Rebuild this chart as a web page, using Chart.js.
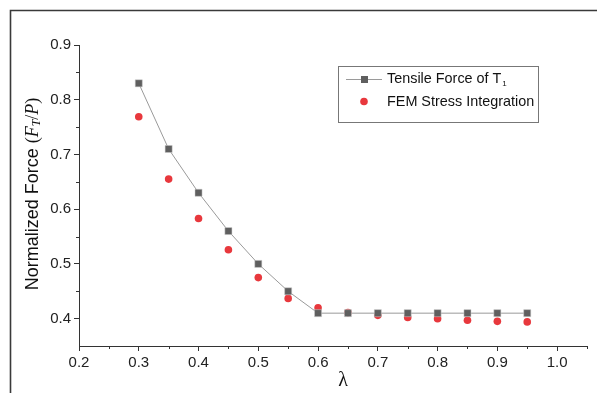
<!DOCTYPE html>
<html>
<head>
<meta charset="utf-8">
<script src="https://cdn.jsdelivr.net/npm/chart.js@4/dist/chart.umd.min.js"></script>
<style>
  html, body { margin: 0; padding: 0; background: #fff; }
  #wrap { width: 597px; height: 393px; }
</style>
</head>
<body>
<div id="wrap"><canvas id="forceChart" width="597" height="393"></canvas></div>
<script>
// lambda values
const lambdas = [0.3, 0.35, 0.4, 0.45, 0.5, 0.55, 0.6, 0.65, 0.7, 0.75, 0.8, 0.85, 0.9, 0.95];
// tensile force of T1 (squares + line)
const tensileForce = [0.83, 0.71, 0.63, 0.56, 0.50, 0.45, 0.41, 0.41, 0.41, 0.41, 0.41, 0.41, 0.41, 0.41];
// FEM stress integration (red dots)
const femStress = [0.769, 0.655, 0.583, 0.526, 0.475, 0.437, 0.420, 0.411, 0.406, 0.402, 0.400, 0.397, 0.395, 0.394];

const xTicks = [0.2, 0.3, 0.4, 0.5, 0.6, 0.7, 0.8, 0.9, 1.0];
const xMinorTicks = [0.25, 0.35, 0.45, 0.55, 0.65, 0.75, 0.85, 0.95, 1.05];
const yTicks = [0.4, 0.5, 0.6, 0.7, 0.8, 0.9];
const yMinorTicks = [0.45, 0.55, 0.65, 0.75, 0.85];

const axisColor = '#333';
const lineGrey = '#9a9a9a';
const squareGrey = '#5f5f5f';
const dotRed = '#e8383d';

// frame, minor ticks, axis titles and legend
const extras = {
    id: 'extras',
    afterDraw(chart) {
        const ctx = chart.ctx;
        const xs = chart.scales.x, ys = chart.scales.y;
        const area = chart.chartArea;
        ctx.save();

        // outer frame (top and left)
        ctx.strokeStyle = '#3a3a3a';
        ctx.lineWidth = 1.6;
        ctx.beginPath();
        ctx.moveTo(10.5, 393);
        ctx.lineTo(10.5, 10.5);
        ctx.lineTo(597, 10.5);
        ctx.stroke();

        // minor ticks
        ctx.strokeStyle = axisColor;
        ctx.lineWidth = 1;
        ctx.beginPath();
        xMinorTicks.forEach(v => {
            const px = Math.round(xs.getPixelForValue(v)) + 0.5;
            ctx.moveTo(px, area.bottom);
            ctx.lineTo(px, area.bottom + 3);
        });
        yMinorTicks.forEach(v => {
            const py = Math.round(ys.getPixelForValue(v)) + 0.5;
            ctx.moveTo(area.left, py);
            ctx.lineTo(area.left - 3, py);
        });
        ctx.stroke();

        // x title
        ctx.fillStyle = '#111';
        ctx.font = '20px "Liberation Serif", "DejaVu Serif", serif';
        ctx.textAlign = 'center';
        ctx.textBaseline = 'middle';
        ctx.fillText('λ', 343, 381);

        // y title, rotated, with math part
        const parts = [
            { t: 'Normalized Force ', f: '18px "Liberation Sans", Arial, sans-serif', dy: 0 },
            { t: '(', f: '18px "Liberation Serif", serif', dy: 0 },
            { t: 'F', f: 'italic 18px "Liberation Serif", serif', dy: 0 },
            { t: 'T', f: 'italic 12px "Liberation Serif", serif', dy: 4 },
            { t: '/', f: '18px "Liberation Serif", serif', dy: 0 },
            { t: 'P', f: 'italic 18px "Liberation Serif", serif', dy: 0 },
            { t: ')', f: '18px "Liberation Serif", serif', dy: 0 }
        ];
        let total = 0;
        parts.forEach(p => { ctx.font = p.f; p.w = ctx.measureText(p.t).width; total += p.w; });
        ctx.translate(33, 194);
        ctx.rotate(-Math.PI / 2);
        ctx.textAlign = 'left';
        ctx.textBaseline = 'middle';
        let cx = -total / 2;
        parts.forEach(p => {
            ctx.font = p.f;
            ctx.fillText(p.t, cx, p.dy);
            cx += p.w;
        });
        ctx.setTransform(1, 0, 0, 1, 0, 0);

        // legend box
        ctx.strokeStyle = '#777';
        ctx.lineWidth = 1;
        ctx.strokeRect(338.5, 66.5, 200, 56);

        ctx.strokeStyle = lineGrey;
        ctx.beginPath();
        ctx.moveTo(346, 79.5);
        ctx.lineTo(382, 79.5);
        ctx.stroke();
        ctx.fillStyle = squareGrey;
        ctx.fillRect(361, 76, 7, 7);

        ctx.fillStyle = dotRed;
        ctx.beginPath();
        ctx.arc(364, 101.5, 3.8, 0, Math.PI * 2);
        ctx.fill();

        ctx.fillStyle = '#111';
        ctx.font = '14.4px "Liberation Sans", Arial, sans-serif';
        ctx.textBaseline = 'middle';
        ctx.fillText('Tensile Force of T', 387, 79);
        const tw = ctx.measureText('Tensile Force of T').width;
        ctx.font = '8px "Liberation Sans", Arial, sans-serif';
        ctx.fillText('1', 387 + tw + 1, 84);
        ctx.font = '14.4px "Liberation Sans", Arial, sans-serif';
        ctx.fillText('FEM Stress Integration', 387, 102);

        ctx.restore();
    }
};

const ctx = document.getElementById('forceChart').getContext('2d');

new Chart(ctx, {
    type: 'line',
    data: {
        datasets: [
            {
                label: 'Tensile Force of T1',
                data: lambdas.map((x, i) => ({ x: x, y: tensileForce[i] })),
                borderColor: lineGrey,
                borderWidth: 1,
                pointStyle: 'rect',
                pointRadius: 5,
                pointBackgroundColor: squareGrey,
                pointBorderColor: '#cfcfcf',
                pointBorderWidth: 0.5,
                tension: 0
            },
            {
                label: 'FEM Stress Integration',
                data: lambdas.map((x, i) => ({ x: x, y: femStress[i] })),
                showLine: false,
                pointStyle: 'circle',
                pointRadius: 3.8,
                pointBackgroundColor: dotRed,
                pointBorderColor: dotRed,
                pointBorderWidth: 0
            }
        ]
    },
    options: {
        responsive: false,
        animation: false,
        layout: { padding: { left: 10, right: 10, top: 45, bottom: 0 } },
        plugins: {
            legend: { display: false },
            tooltip: { enabled: false }
        },
        scales: {
            x: {
                type: 'linear',
                min: 0.2,
                max: 1.05,
                afterBuildTicks: s => { s.ticks = xTicks.map(v => ({ value: v })); },
                afterFit: s => { s.height = 47; },
                grid: { drawOnChartArea: false, drawTicks: true, tickLength: 5, color: axisColor },
                border: { display: true, color: axisColor, width: 1 },
                ticks: {
                    color: '#222',
                    padding: 3,
                    maxRotation: 0,
                    font: { family: '"Liberation Sans", Arial, sans-serif', size: 15 },
                    callback: v => v.toFixed(1)
                }
            },
            y: {
                type: 'linear',
                min: 0.35,
                max: 0.9,
                afterBuildTicks: s => { s.ticks = yTicks.map(v => ({ value: v })); },
                afterFit: s => { s.width = 69; },
                grid: { drawOnChartArea: false, drawTicks: true, tickLength: 5, color: axisColor },
                border: { display: true, color: axisColor, width: 1 },
                ticks: {
                    color: '#222',
                    padding: 3,
                    font: { family: '"Liberation Sans", Arial, sans-serif', size: 15 },
                    callback: v => v.toFixed(1)
                }
            }
        }
    },
    plugins: [extras]
});
</script>
</body>
</html>
